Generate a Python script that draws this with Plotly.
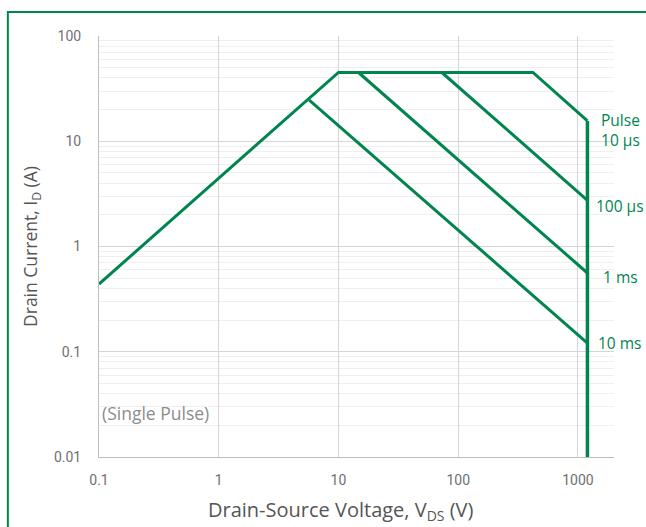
import math
import plotly.graph_objects as go

# Safe operating area boundaries (V_DS in volts, I_D in amps)
green = "#00854F"

# R_DS(on) limit rising into the 10 us pulse envelope
v_10us = [0.1, 10, 421, 1200]
i_10us = [0.44, 45, 45, 15.6]

v_100us = [73, 1200]
i_100us = [45, 2.75]

v_1ms = [14.7, 1200]
i_1ms = [45, 0.56]

v_10ms = [5.7, 1200]
i_10ms = [24.6, 0.121]

# breakdown voltage limit
v_bv = [1200, 1200]
i_bv = [15.6, 0.01]

pulse_labels = ["Pulse<br>10 µs", "100 µs", "1 ms", "10 ms"]

x_ticks = [0.1, 1, 10, 100, 1000]
x_ticktext = ["0.1", "1", "10", "100", "1000"]
y_ticks = [0.01, 0.1, 1, 10, 100]
y_ticktext = ["0.01", "0.1", "1", "10", "100"]

fig = go.Figure()
curves = [(v_10us, i_10us), (v_100us, i_100us), (v_1ms, i_1ms),
          (v_10ms, i_10ms)]
for xs, ys in curves:
    fig.add_trace(go.Scatter(x=xs, y=ys, mode="lines",
                             line=dict(color=green, width=3),
                             showlegend=False, hoverinfo="skip"))
fig.add_trace(go.Scatter(x=v_bv, y=i_bv, mode="lines",
                         line=dict(color=green, width=3.5),
                         showlegend=False, hoverinfo="skip"))

# pulse-width labels beside the end of each boundary
label_shift = [-9, -6, -4, 0]
for txt, (xs, ys), dy in zip(pulse_labels, curves, label_shift):
    fig.add_annotation(x=1.0117, xref="paper", y=math.log10(ys[-1]),
                       yref="y", text=txt, showarrow=False,
                       xanchor="center", yshift=dy, align="center",
                       font=dict(family="Open Sans", size=15.5, color=green))

fig.add_annotation(x=-1, y=math.log10(0.0262), xref="x", yref="y",
                   text="(Single Pulse)", showarrow=False,
                   xanchor="left", xshift=1,
                   font=dict(family="Open Sans", size=17.5, color="#8c8c8c"))

# x-axis title
fig.add_annotation(x=0.468, xref="paper", y=0, yref="paper", yanchor="middle",
                   yshift=-53, showarrow=False,
                   text="Drain-Source Voltage, V<sub>DS</sub> (V)",
                   font=dict(family="Open Sans", size=20, color="#555555"))

# outer frame
fig.add_shape(type="rect", xref="paper", yref="paper",
              x0=-0.177, x1=1.35, y0=-0.35, y1=1.057,
              line=dict(color=green, width=2), layer="below")

tick_font = dict(family="Roboto", size=14, color="#707070")
y_title_font = dict(family="Open Sans", size=17.5, color="#555555")

fig.update_xaxes(type="log", range=[-1, 3.301], tickvals=x_ticks,
                 ticktext=x_ticktext, tickfont=tick_font,
                 showgrid=True, gridcolor="#d6d6d6", gridwidth=1,
                 showline=True, linecolor="#bdbdbd", linewidth=1,
                 zeroline=False, ticks="", ticklabelstandoff=10)
fig.update_yaxes(type="log", range=[-2, 2], tickvals=y_ticks,
                 ticktext=y_ticktext, tickfont=tick_font,
                 showgrid=True, gridcolor="#d6d6d6", gridwidth=1,
                 minor=dict(showgrid=True, gridcolor="#efefef", dtick="D1"),
                 showline=True, linecolor="#bdbdbd", linewidth=1,
                 zeroline=False, ticks="", ticklabelstandoff=14,
                 title=dict(text="Drain Current, I<sub>D</sub> (A)",
                            font=y_title_font, standoff=11))

fig.update_layout(width=646, height=527,
                  margin=dict(l=99, r=32, t=36, b=70),
                  paper_bgcolor="white", plot_bgcolor="white")

fig.write_html("out.html")
